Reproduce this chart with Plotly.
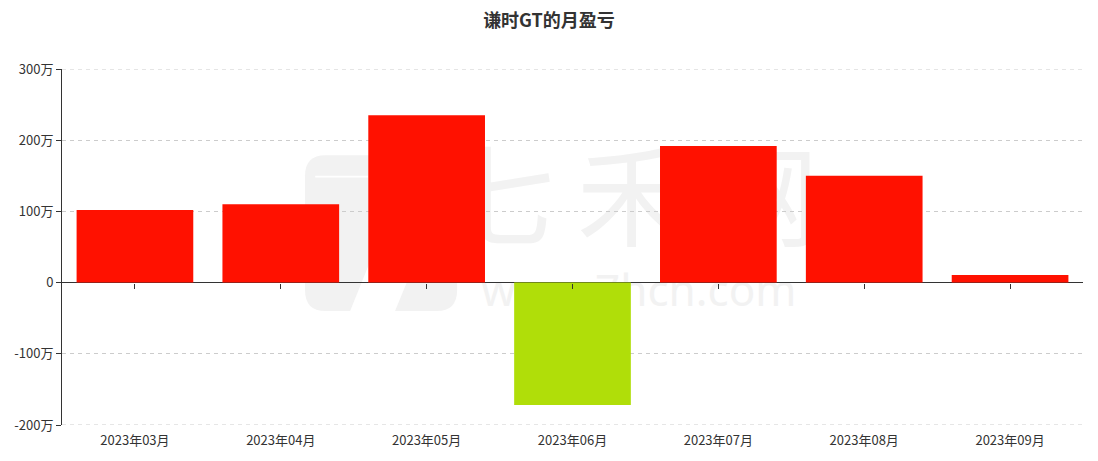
import plotly.graph_objects as go

months = ["2023年03月", "2023年04月", "2023年05月", "2023年06月", "2023年07月", "2023年08月", "2023年09月"]
pnl_wan = [102, 110, 235, -172, 192, 150, 10.5]
y_ticks = [-200, -100, 0, 100, 200, 300]
y_tick_labels = ["-200万", "-100万", "0", "100万", "200万", "300万"]
title = "谦时GT的月盈亏"

colors = ["#ff1100" if v >= 0 else "#b0de09" for v in pnl_wan]
font = "Noto Sans CJK SC, Microsoft YaHei, sans-serif"
grid_dash = "4px,4px"

y_lo, y_hi = y_ticks[0], y_ticks[-1]
zero_frac = (0 - y_lo) / (y_hi - y_lo)

fig = go.Figure()
fig.add_trace(go.Bar(
    x=months, y=pnl_wan, marker=dict(color=colors, line=dict(width=0)),
    hovertemplate="%{x}: %{y}万<extra></extra>",
))
# invisible trace to drive the second x axis (ticks on zero line)
fig.add_trace(go.Scatter(x=months, y=[0]*len(months), xaxis="x2", mode="markers",
                         marker=dict(opacity=0), hoverinfo="skip", showlegend=False))

fig.update_layout(
    width=1098, height=461,
    margin=dict(l=62, r=15, t=69, b=36, autoexpand=False),
    paper_bgcolor="white", plot_bgcolor="white",
    showlegend=False,
    bargap=0.2,
    font=dict(family=font, size=13, color="#333"),
    title=dict(text="<b>" + title + "</b>", x=0.5, xanchor="center", y=0.955, yanchor="middle",
               font=dict(size=18, color="#333", family=font)),
    xaxis=dict(showline=False, ticks="", showgrid=False, zeroline=False, automargin=False,
               ticklabelstandoff=6, tickfont=dict(size=13, color="#333")),
    xaxis2=dict(overlaying="x", anchor="free", position=zero_frac, side="bottom",
                showline=False, ticks="outside", ticklen=5,
                tickcolor="#333", showticklabels=False, showgrid=False, zeroline=False,
                matches="x", automargin=False),
    yaxis=dict(range=[y_lo, y_hi], tickvals=y_ticks, ticktext=y_tick_labels, automargin=False,
               showline=True, linecolor="#333", linewidth=1, ticks="outside", ticklen=5,
               tickcolor="#333", showgrid=True, gridcolor="#cccccc", griddash=grid_dash,
               zeroline=True, zerolinecolor="#333", zerolinewidth=1,
               tickfont=dict(size=13, color="#333")),
)

# dashed grid lines at the two range ends (plotly skips grid at the plot edges)
for yv in (y_ticks[0], y_ticks[-1]):
    fig.add_shape(type="line", xref="paper", yref="y", x0=0, x1=1, y0=yv, y1=yv,
                  layer="below", line=dict(color="#cccccc", width=1, dash=grid_dash))

# faint watermark drawn beneath the bars
wm_color = "#f2f2f2"
fig.add_shape(type="rect", xref="paper", yref="paper", x0=0.408, x1=0.708, y0=0.46, y1=0.76,
              layer="below", line=dict(width=0), fillcolor="rgba(0,0,0,0)",
              label=dict(text="七\u2009禾\u2009网", font=dict(size=110, color=wm_color, family=font),
                         textposition="middle center"))
fig.add_shape(type="rect", xref="paper", yref="paper", x0=0.415, x1=0.715, y0=0.30, y1=0.45,
              layer="below", line=dict(width=0), fillcolor="rgba(0,0,0,0)",
              label=dict(text="www.7hcn.com", font=dict(size=44, color=wm_color, family="Noto Sans, sans-serif"),
                         textposition="middle center"))
# logo: rounded block with a diagonal cut-out
fig.add_shape(type="path", xref="paper", yref="paper", layer="below",
              path=("M 0.258 0.758 L 0.367 0.758 Q 0.387 0.758 0.387 0.70 L 0.387 0.38 "
                    "Q 0.387 0.320 0.367 0.320 L 0.258 0.320 Q 0.238 0.320 0.238 0.38 "
                    "L 0.238 0.70 Q 0.238 0.758 0.258 0.758 Z"),
              fillcolor=wm_color, line=dict(width=0))
fig.add_shape(type="path", xref="paper", yref="paper", layer="below",
              path="M 0.282 0.319 L 0.326 0.319 L 0.372 0.64 L 0.390 0.70 L 0.330 0.66 Z",
              fillcolor="white", line=dict(width=0))
fig.add_shape(type="path", xref="paper", yref="paper", layer="below",
              path="M 0.248 0.695 L 0.300 0.695 L 0.300 0.70 L 0.248 0.70 Z",
              fillcolor="white", line=dict(width=0))

fig.write_html("out.html", config={"displayModeBar": False},
               post_script="document.body.style.margin='0';")
